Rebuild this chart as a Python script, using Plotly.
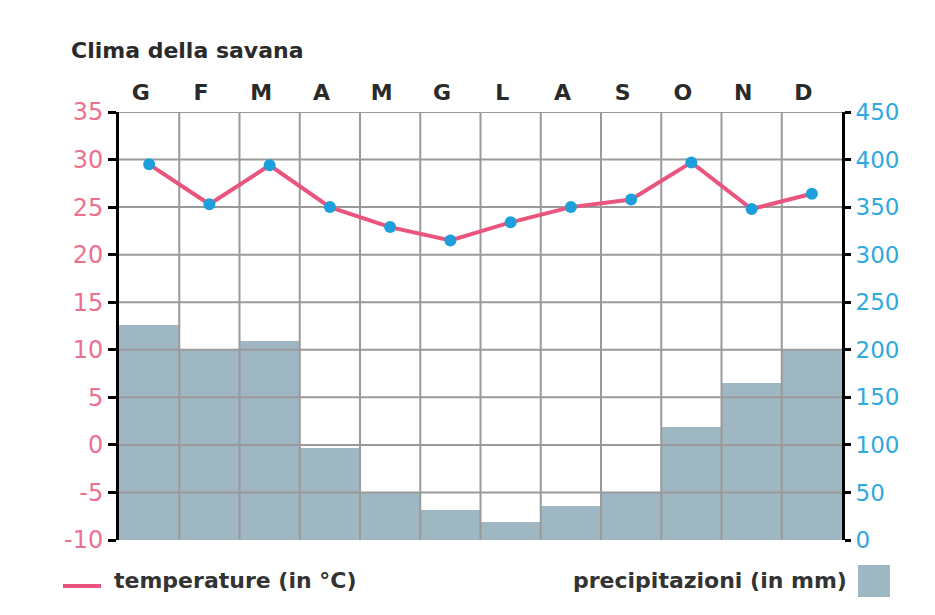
import plotly.graph_objects as go

months = ["G", "F", "M", "A", "M", "G", "L", "A", "S", "O", "N", "D"]
temperature = [29.5, 25.3, 29.4, 25.0, 22.9, 21.5, 23.4, 25.0, 25.8, 29.7, 24.8, 26.4]
precipitation = [226, 200, 209, 97, 50, 32, 19, 36, 50, 119, 165, 200]
temp_ticks = list(range(-10, 36, 5))
temp_labels = [str(v) for v in temp_ticks]
prec_ticks = list(range(0, 451, 50))

FONT = "DejaVu Sans, sans-serif"
PINK = "#e9557c"
PINK_TXT = "#ef6f8e"
BLUE = "#1d9fdb"
BLUE_TXT = "#2fa9de"
BAR = "#9fb6c3"
GRID = "#9a9a9a"

W, H = 935, 615
OFF = 8  # page body margin
L, T, R, B = 119 - OFF, 112 - OFF, W - (842 - OFF), H - (540 - OFF)
pw = W - L - R
ph = H - T - B


def to_paper(px, py):
    return (px - OFF - L) / pw, 1 - (py - OFF - T) / ph


n = len(months)
xs = list(range(n))

# gridlines drawn above the bars (from axis ticks / category boundaries)
gx, gy = [], []
for v in prec_ticks[1:]:
    gx += [-0.5, n - 0.5, None]
    gy += [v, v, None]
for i in range(n - 1):
    gx += [i + 0.5, i + 0.5, None]
    gy += [prec_ticks[0], prec_ticks[-1], None]

fig = go.Figure()
fig.add_trace(go.Bar(x=xs, y=precipitation, marker=dict(color=BAR, line=dict(width=0)),
                     width=1.0, xaxis="x", yaxis="y", showlegend=False, hoverinfo="y"))
fig.add_trace(go.Scatter(x=gx, y=gy, mode="lines", line=dict(color=GRID, width=2),
                         xaxis="x", yaxis="y", showlegend=False, hoverinfo="skip"))
fig.add_trace(go.Scatter(x=xs, y=temperature, mode="lines+markers",
                         line=dict(color=PINK, width=4),
                         marker=dict(color=BLUE, size=12),
                         xaxis="x2", yaxis="y2", showlegend=False))

fig.update_layout(
    width=W, height=H,
    margin=dict(l=L, r=R, t=T, b=B),
    paper_bgcolor="white", plot_bgcolor="white",
    font=dict(family=FONT, color="#333333"),
    bargap=0,
    xaxis=dict(range=[-0.5, n - 0.5], showgrid=False, zeroline=False,
               showticklabels=False, ticks=""),
    xaxis2=dict(range=[-0.5, n - 0.5], overlaying="x", side="top",
                tickvals=[i - 0.14 for i in xs], ticktext=months,
                showgrid=False, zeroline=False, ticks="outside", ticklen=2,
                tickcolor="rgba(0,0,0,0)",
                tickfont=dict(size=22, color="#2a2a2a", family=FONT, weight="bold")),
    yaxis=dict(range=[prec_ticks[0], prec_ticks[-1]], side="right",
               tickvals=prec_ticks, showgrid=False, zeroline=False,
               showline=True, linecolor="black", linewidth=3,
               ticks="outside", ticklen=6, tickwidth=3, tickcolor="black",
               tickfont=dict(size=23, color=BLUE_TXT, family=FONT)),
    yaxis2=dict(range=[temp_ticks[0], temp_ticks[-1]], side="left", overlaying="y",
                tickvals=temp_ticks, ticktext=temp_labels,
                showgrid=False, zeroline=False,
                showline=True, linecolor="black", linewidth=3,
                ticks="outside", ticklen=8, tickwidth=3, tickcolor="black",
                tickfont=dict(size=24, color=PINK_TXT, family=FONT)),
)

texts = [
    ("Clima della savana", 69, 50, "left", 22, "#2a2a2a"),
    ("temperature (in °C)", 112, 580, "left", 22, "#333333"),
    ("precipitazioni (in mm)", 849, 580, "right", 22, "#333333"),
]
for txt, px, py, anchor, size, color in texts:
    ax, ay = to_paper(px, py)
    fig.add_annotation(text=txt, x=ax, y=ay, xref="paper", yref="paper",
                       showarrow=False, xanchor=anchor, yanchor="middle",
                       font=dict(size=size, color=color, family=FONT, weight="bold"))

x0, y0 = to_paper(63, 586)
x1, y1 = to_paper(101, 586)
fig.add_shape(type="line", xref="paper", yref="paper", x0=x0, y0=y0, x1=x1, y1=y1,
              line=dict(color=PINK, width=4))
x0, y0 = to_paper(858, 565)
x1, y1 = to_paper(890, 597)
fig.add_shape(type="rect", xref="paper", yref="paper", x0=x0, y0=y0, x1=x1, y1=y1,
              fillcolor=BAR, line=dict(width=0))

fig.write_html("out.html")
